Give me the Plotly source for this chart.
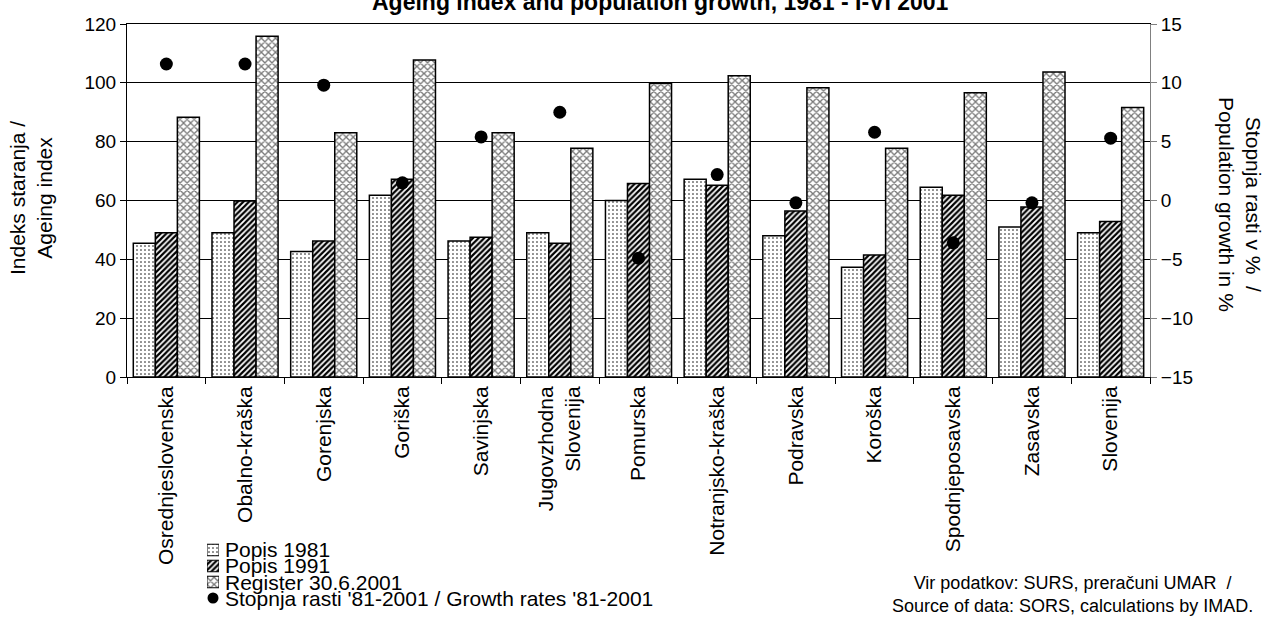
import plotly.graph_objects as go

# ---------------- data ----------------
categories = ["Osrednjeslovenska", "Obalno-kraška", "Gorenjska", "Goriška", "Savinjska",
              "Jugovzhodna<br>Slovenija", "Pomurska", "Notranjsko-kraška", "Podravska",
              "Koroška", "Spodnjeposavska", "Zasavska", "Slovenija"]
popis_1981 = [45.5, 49.0, 42.7, 61.8, 46.2, 49.0, 60.0, 67.2, 48.0, 37.3, 64.5, 51.0, 49.0]
popis_1991 = [49.0, 59.8, 46.2, 67.2, 47.5, 45.5, 65.8, 65.2, 56.4, 41.5, 61.8, 57.8, 52.9]
register_2001 = [88.3, 115.8, 83.0, 107.8, 83.0, 77.8, 99.8, 102.4, 98.3, 77.8, 96.6, 103.7, 91.6]
growth_rate = [11.6, 11.6, 9.8, 1.5, 5.4, 7.5, -4.9, 2.2, -0.2, 5.8, -3.6, -0.2, 5.3]

series_names = ["Popis 1981", "Popis 1991", "Register 30.6.2001"]
dot_name = "Stopnja rasti '81-2001 / Growth rates '81-2001"
left_ticks = [0, 20, 40, 60, 80, 100, 120]
right_ticks = [-15, -10, -5, 0, 5, 10, 15]

title_text = "Ageing index and population growth, 1981 - I-VI 2001"
left_title = "Indeks staranja /<br>Ageing index"
right_title = "Stopnja rasti v %&nbsp; /<br>Population growth in %"
source_text = "Vir podatkov: SURS, preračuni UMAR&nbsp; /<br>Source of data: SORS, calculations by IMAD."

# ---------------- layout helpers ----------------
W, H = 1264, 617
ML, MR, MT, MB = 127, 114, 24, 0
PW, PH = W - ML - MR, H - MT - MB


def px(x):
    return (x - ML) / PW


def py(y):
    return (H - MB - y) / PH


FONT = "Liberation Sans, Arial, sans-serif"

patterns = [
    dict(shape=".", fgcolor="black", bgcolor="white", size=4, solidity=0.12),
    dict(shape="/", fgcolor="black", bgcolor="white", size=4, solidity=0.55),
    dict(shape="x", fgcolor="#777777", bgcolor="white", size=5, solidity=0.45),
]

fig = go.Figure()

for name, vals, pat in zip(series_names, [popis_1981, popis_1991, register_2001], patterns):
    fig.add_trace(go.Bar(
        x=categories, y=vals, name=name,
        marker=dict(color="white", pattern=pat, line=dict(color="black", width=1.5)),
        xaxis="x", yaxis="y", showlegend=False,
    ))

fig.add_trace(go.Scatter(
    x=categories, y=growth_rate, name=dot_name, mode="markers",
    marker=dict(color="black", size=13), xaxis="x", yaxis="y2", showlegend=False,
))

# ---- custom compact legend (swatches drawn by the library) ----
fig.add_trace(go.Bar(
    x=[1, 1, 1], y=[0, 1, 2], orientation="h", width=0.72,
    marker=dict(
        color="white",
        line=dict(color="black", width=1),
        pattern=dict(
            shape=[p["shape"] for p in patterns],
            fgcolor=[p["fgcolor"] for p in patterns],
            bgcolor=[p["bgcolor"] for p in patterns],
            size=[p["size"] for p in patterns],
            solidity=[p["solidity"] for p in patterns],
        ),
    ),
    xaxis="x3", yaxis="y3", showlegend=False, hoverinfo="skip",
))
fig.add_trace(go.Scatter(
    x=[0.5], y=[3], mode="markers", marker=dict(color="black", size=11),
    xaxis="x3", yaxis="y3", showlegend=False, hoverinfo="skip",
))

legend_rows_px = [549, 565.5, 582, 598.5]
annotations = []
for label, ypx in zip(series_names + [dot_name], legend_rows_px):
    annotations.append(dict(
        text=label, x=px(223), y=py(ypx), xref="paper", yref="paper",
        xanchor="left", yanchor="middle", showarrow=False,
        font=dict(family=FONT, size=21, color="black"),
    ))

annotations += [
    dict(text="<b>" + title_text + "</b>", x=px(660), y=py(2), xref="paper", yref="paper",
         xanchor="center", yanchor="middle", showarrow=False,
         font=dict(family=FONT, size=23, color="black")),
    dict(text=left_title, x=px(31), y=py(198), xref="paper", yref="paper",
         xanchor="center", yanchor="middle", textangle=-90, showarrow=False,
         font=dict(family=FONT, size=21, color="black")),
    dict(text=right_title, x=px(1240), y=py(204), xref="paper", yref="paper",
         xanchor="center", yanchor="middle", textangle=90, showarrow=False,
         font=dict(family=FONT, size=21, color="black")),
    dict(text=source_text, x=px(1072), y=py(594), xref="paper", yref="paper",
         xanchor="center", yanchor="middle", align="center", showarrow=False,
         font=dict(family=FONT, size=18, color="black")),
]

fig.update_layout(
    template="none",
    width=W, height=H,
    margin=dict(l=ML, r=MR, t=MT, b=MB, pad=0),
    paper_bgcolor="white", plot_bgcolor="white",
    font=dict(family=FONT, color="black"),
    showlegend=False,
    barmode="group", bargap=0.16, bargroupgap=0,
    annotations=annotations,
    xaxis=dict(
        domain=[0, 1], anchor="y", type="category", range=[-0.5, len(categories) - 0.5],
        tickangle=-90, tickfont=dict(size=21),
        ticks="outside", tickson="boundaries", ticklen=6, tickcolor="black",
        showline=True, linecolor="black", linewidth=1, mirror=True,
        showgrid=False, zeroline=False, automargin=False,
    ),
    yaxis=dict(
        domain=[py(377), 1], anchor="x",
        range=[0, 120], tickvals=left_ticks,
        ticks="outside", ticklen=6, tickcolor="black", tickfont=dict(size=19),
        showline=True, linecolor="black", linewidth=1,
        showgrid=True, gridcolor="black", gridwidth=1,
        zeroline=False, automargin=False,
    ),
    yaxis2=dict(
        overlaying="y", side="right", anchor="x",
        range=[-15, 15], tickvals=right_ticks,
        ticks="outside", ticklen=6, tickcolor="#808080", tickfont=dict(size=19),
        showline=True, linecolor="#808080", linewidth=1,
        showgrid=False, zeroline=False, automargin=False,
    ),
    xaxis3=dict(domain=[px(207), px(219)], anchor="y3", range=[0, 1],
                visible=False, fixedrange=True),
    yaxis3=dict(domain=[py(606), py(542)], anchor="x3", range=[3.5, -0.5],
                visible=False, fixedrange=True),
)

fig.write_html("out.html", config={"displayModeBar": False},
               post_script="document.body.style.margin='0px';")
